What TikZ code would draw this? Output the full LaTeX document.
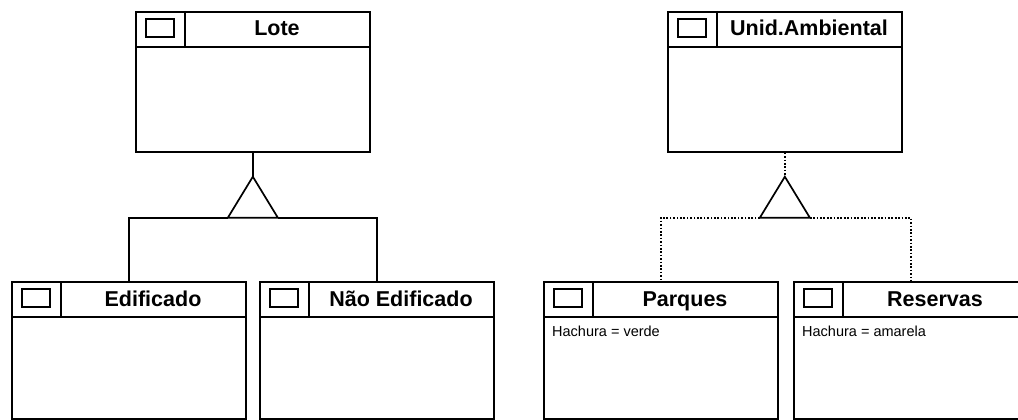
\documentclass[tikz,border=0pt]{standalone}
\usepackage{fontspec}
\setmainfont{Liberation Sans}
\usetikzlibrary{calc}

% class box: name, top-left corner, height, title, attribute text
\newcommand{\classbox}[5]{%
  \node[classe,minimum height=#3] (#1) at (#2) {};
  \draw[linha] ($(#1.north west)+(0,-36)$) -- ++(234,0);
  \draw[linha] ($(#1.north west)+(50,0)$) -- ++(0,-36);
  \draw[linha] ($(#1.north west)+(11,-8)$) rectangle ++(28,-18);
  \node[titulo] (#1-t) at ($(#1.north west)+(142,-25)$) {#4};
  \node[atributo] (#1-a) at ($(#1.north west)+(9,-55)$) {#5};}

\begin{document}
\begin{tikzpicture}[x=1pt,y=1pt,
    linha/.style={line width=1.7pt,line join=miter},
    classe/.style={draw,linha,rectangle,anchor=north west,minimum width=234pt,inner sep=0pt},
    titulo/.style={font=\bfseries\fontsize{21.5}{25}\selectfont,anchor=base,inner sep=0pt},
    atributo/.style={font=\fontsize{14.5}{16}\selectfont,anchor=base west,inner sep=0pt},
    pontilhado/.style={linha,dash pattern=on 1.7pt off 1.7pt}]
    \useasboundingbox (0,0) rectangle (1018,-420);
    % --- left tree: solid generalisation
    \classbox{lote}{135,-11}{140pt}{Lote}{}
    \classbox{edif}{11,-281}{137pt}{Edificado}{}
    \classbox{naoedif}{259,-281}{137pt}{Não Edificado}{}
    \coordinate (apL) at ($(lote.south)+(0,-24)$);
    \draw[linha] (lote.south) -- (apL);
    \draw[linha] (apL) -- ++(-25,-41) coordinate (baseLe) -- ++(50,0) coordinate (baseLd) -- cycle;
    \draw[linha] (baseLe) -| (edif.north);
    \draw[linha] (baseLd) -| (naoedif.north);
    % --- right tree: dotted generalisation
    \classbox{unid}{667,-11}{140pt}{Unid.Ambiental}{}
    \classbox{parq}{543,-281}{137pt}{Parques}{Hachura = verde}
    \classbox{resv}{793,-281}{137pt}{Reservas}{Hachura = amarela}
    \coordinate (apR) at ($(unid.south)+(0,-24)$);
    \draw[pontilhado] (unid.south) -- (apR);
    \draw[linha] (apR) -- ++(-25,-41) coordinate (baseRe) -- ++(50,0) coordinate (baseRd) -- cycle;
    \draw[pontilhado] (baseRe) -| (parq.north);
    \draw[pontilhado] (baseRd) -| (resv.north);
\end{tikzpicture}
\end{document}
